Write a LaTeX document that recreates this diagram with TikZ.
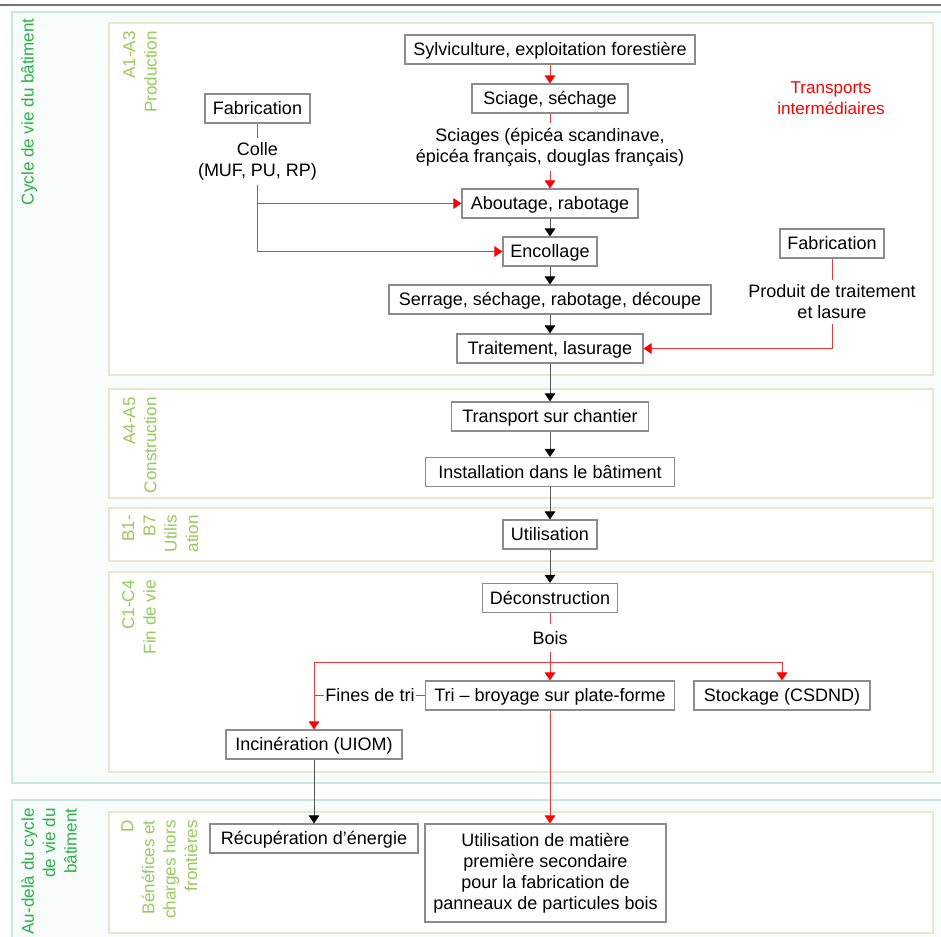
\documentclass[tikz,border=0pt]{standalone}
\usepackage{fontspec}
\setmainfont{Liberation Sans}
\usetikzlibrary{arrows.meta}
\definecolor{boxgray}{HTML}{8C8C8C}
\definecolor{lred}{HTML}{F03A3A}
\definecolor{tred}{HTML}{FF0000}
\definecolor{dgreen}{HTML}{2DB04B}
\definecolor{lgreen}{HTML}{95CB5A}
\definecolor{tealb}{HTML}{C9E7E1}
\definecolor{oliveb}{HTML}{E4E8CF}
\definecolor{outerfill}{HTML}{F7FBFA}
\definecolor{lineg}{HTML}{555555}
\newcommand{\bodyfont}{\fontsize{13.5pt}{15.75pt}\selectfont}
\newcommand{\greenfont}{\fontsize{12.8pt}{16pt}\selectfont}
\begin{document}
\begin{tikzpicture}[x=0.75pt,y=-0.75pt,
  boxbase/.style={draw=boxgray, line width=0.9pt, fill=white, inner sep=0pt, minimum height=21.75pt, font=\bodyfont},
  box/.style={boxbase, text height=9.7pt, text depth=0pt},
  lbl/.style={inner xsep=1pt, inner ysep=3.5pt, align=center, font=\bodyfont},
  phl/.style={rotate=90, anchor=north east, align=right, inner sep=0pt, text=lgreen, font=\greenfont},
  rline/.style={draw=lred, line width=0.75pt},
  rarr/.style={rline, -{Triangle[width=8pt,length=6pt,color=tred,fill=tred]}},
  karr/.style={draw=lineg, line width=0.75pt, -{Triangle[width=8pt,length=6pt,color=black,fill=black]}}]
\useasboundingbox (0,0) rectangle (941,937);
\clip (0,0) rectangle (941,937);
\fill[white] (0,0) rectangle (941,937);
\draw[draw=black!55, line width=1.5pt] (0,5) -- (941,5);
% outer frames
\draw[draw=tealb, fill=outerfill, line width=0.8pt] (12,12) rectangle (960,783);
\draw[draw=tealb, fill=outerfill, line width=0.8pt] (12,800) rectangle (960,980);
% phase frames
\draw[draw=oliveb, fill=white, line width=0.9pt] (109,23) rectangle (933,375);
\draw[draw=oliveb, fill=white, line width=0.9pt] (109,389) rectangle (933,498);
\draw[draw=oliveb, fill=white, line width=0.9pt] (109,508) rectangle (933,561);
\draw[draw=oliveb, fill=white, line width=0.9pt] (109,572) rectangle (933,772);
\draw[draw=oliveb, fill=white, line width=0.9pt] (109,812) rectangle (933,933);
% green labels
\node[phl, text=dgreen] (cyc) at (21,18) {Cycle de vie du bâtiment};
\node[phl, text=dgreen] (aud) at (21,808) {Au-delà du cycle\\de vie du\\bâtiment};
\node[phl] (pA) at (123,31) {A1-A3\\Production};
\node[phl] (pA4) at (123,397) {A4-A5\\Construction};
\node[phl] (pB) at (122,515) {B1-\\B7\\Utilis\\ation};
\node[phl] (pC) at (122,580) {C1-C4\\Fin de vie};
\node[phl] (pD) at (121,820) {D\\Bénéfices et\\charges hors\\frontières};
\node[text=tred, align=center, font=\greenfont] (transpi) at (831,98) {Transports\\intermédiaires};
% nodes
\node[box, minimum width=217.5pt] (sylv) at (550,49.5) {Sylviculture, exploitation forestière};
\node[box, minimum width=117pt] (sciage) at (550,98.5) {Sciage, séchage};
\node[lbl] (sciages) at (550,147) {Sciages (épicéa scandinave,\\épicéa français, douglas français)};
\node[box, minimum width=132pt] (about) at (550,203.5) {Aboutage, rabotage};
\node[box, minimum width=70.5pt] (encol) at (550,251.5) {Encollage};
\node[box, minimum width=241.5pt] (serr) at (550,299.5) {Serrage, séchage, rabotage, découpe};
\node[box, minimum width=139.5pt] (trait) at (550,348.5) {Traitement, lasurage};
\node[box, minimum width=147.75pt] (transp) at (550,416.5) {Transport sur chantier};
\node[box, minimum width=186.75pt] (install) at (550,472) {Installation dans le bâtiment};
\node[box, minimum width=70.5pt] (util) at (550,534.5) {Utilisation};
\node[box, minimum width=101.25pt] (decon) at (550,598) {Déconstruction};
\node[lbl, inner ysep=5pt] (bois) at (550,638) {Bois};
\node[box, minimum width=186.75pt] (tri) at (550,695.5) {Tri – broyage sur plate-forme};
\node[box, minimum width=132pt] (stock) at (782,695.5) {Stockage (CSDND)};
\node[lbl, inner ysep=0pt, fill=white] (fines) at (370,695.5) {Fines de tri};
\node[box, minimum width=132pt] (incin) at (314,744.5) {Incinération (UIOM)};
\node[box, minimum width=156pt] (recup) at (314,838.5) {Récupération d’énergie};
\node[boxbase, minimum width=180.75pt, minimum height=73.5pt, align=center] (mat) at (545.5,873) {Utilisation de matière\\première secondaire\\pour la fabrication de\\panneaux de particules bois};
\node[box, minimum width=78.75pt] (fabL) at (257.5,108.5) {Fabrication};
\node[lbl] (colle) at (257.5,161.5) {Colle\\(MUF, PU, RP)};
\node[box, minimum width=78pt] (fabR) at (832,243.5) {Fabrication};
\node[lbl] (prod) at (832,302) {Produit de traitement\\et lasure};
% connectors
\draw[rarr] (sylv) -- (sciage);
\draw[rline] (sciage) -- (sciages);
\draw[rarr] (sciages) -- (about);
\draw[karr] (about) -- (encol);
\draw[karr] (encol) -- (serr);
\draw[karr] (serr) -- (trait);
\draw[karr] (trait) -- (transp);
\draw[karr] (transp) -- (install);
\draw[karr] (install) -- (util);
\draw[karr] (util) -- (decon);
\draw[rline] (decon) -- (bois);
\draw[rarr] (bois) -- (tri);
\coordinate (br) at (550,662);
\draw[rarr] (br) -| (incin.north);
\draw[rarr] (br) -| (stock.north);
\draw[rline] (tri.west) -- (fines.east);
\draw[rline] (fines.west) -- (fines.west -| incin.north);
\draw[rarr] (tri.south) -- (tri.south |- mat.north);
\draw[karr] (incin) -- (recup);
\draw[rline] (fabL) -- (colle);
\draw[rarr] (colle.south) |- (encol.west);
\draw[rarr] (colle.south |- about.west) -- (about.west);
\draw[rline] (fabR) -- (prod);
\draw[rarr] (prod.south) |- (trait.east);
\end{tikzpicture}
\end{document}
